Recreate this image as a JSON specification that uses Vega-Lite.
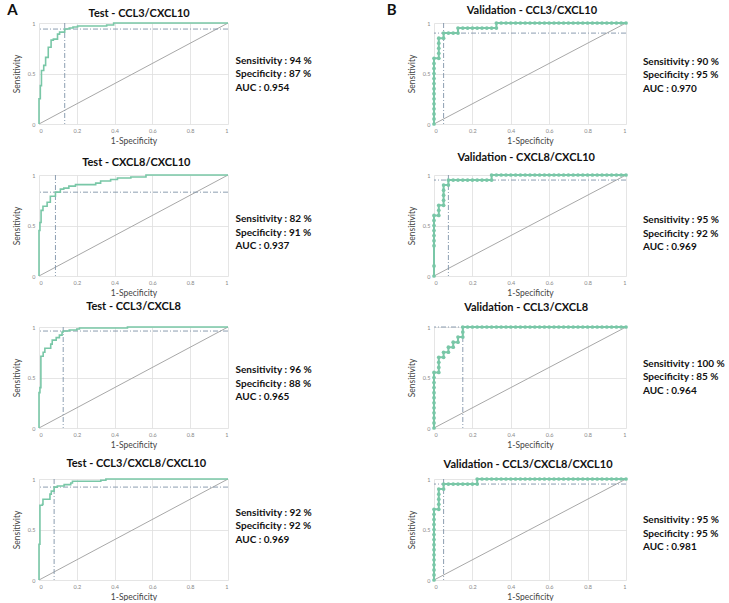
{
  "$schema": "https://vega.github.io/schema/vega-lite/v6.json",
  "background": "white",
  "padding": {"left": 7, "top": 2, "right": 0, "bottom": 0},
  "datasets": {
    "diag": [{"x": 0, "y": 0}, {"x": 1, "y": 1}]
  },
  "columns": 2,
  "align": "each",
  "bounds": "flush",
  "spacing": {"row": 51, "column": 206},
  "concat": [
    {
      "width": 189, "height": 101,
      "layer": [
        {"data": {"name": "diag"}, "mark": {"type": "line", "color": "#a8a8a8", "strokeWidth": 1},
         "encoding": {"x": {"field": "x", "type": "quantitative", "scale": {"domain": [0, 1]}, "title": "1-Specificity"}, "y": {"field": "y", "type": "quantitative", "scale": {"domain": [0, 1]}, "title": "Sensitivity"}}},
        {"data": {"values": [{"fpr": 0.136, "tpr": 0.94}]}, "mark": {"type": "rule", "color": "#7f93a8", "strokeDash": [5, 2, 1, 2], "strokeWidth": 0.9},
         "encoding": {"y": {"field": "tpr", "type": "quantitative", "scale": {"domain": [0, 1]}, "title": "Sensitivity"}}},
        {"data": {"values": [{"fpr": 0.136, "tpr": 0.94}]}, "mark": {"type": "rule", "color": "#7f93a8", "strokeDash": [5, 2, 1, 2], "strokeWidth": 0.9},
         "encoding": {"x": {"field": "fpr", "type": "quantitative", "scale": {"domain": [0, 1]}, "title": "1-Specificity"}}},
        {"data": {"values": [
          {"x": 0, "y": 0}, {"x": 0, "y": 0.25}, {"x": 0.007, "y": 0.38}, {"x": 0.013, "y": 0.53}, {"x": 0.025, "y": 0.58},
          {"x": 0.035, "y": 0.66}, {"x": 0.049, "y": 0.76}, {"x": 0.064, "y": 0.83}, {"x": 0.076, "y": 0.84}, {"x": 0.098, "y": 0.89},
          {"x": 0.109, "y": 0.91}, {"x": 0.136, "y": 0.94}, {"x": 0.16, "y": 0.95}, {"x": 0.18, "y": 0.96}, {"x": 0.204, "y": 0.97},
          {"x": 0.358, "y": 0.98}, {"x": 0.395, "y": 1}, {"x": 1, "y": 1}
        ]}, "mark": {"type": "line", "interpolate": "step-after", "color": "#79c7a7", "strokeWidth": 1.6},
         "encoding": {"x": {"field": "x", "type": "quantitative", "scale": {"domain": [0, 1]}, "title": "1-Specificity"}, "y": {"field": "y", "type": "quantitative", "scale": {"domain": [0, 1]}, "title": "Sensitivity"},
          "order": [{"field": "x", "type": "quantitative"}, {"field": "y", "type": "quantitative"}]}},
        {"data": {"values": [{"ann": "Sensitivity : 94 %\nSpecificity : 87 %\nAUC : 0.954"}]}, "mark": {"type": "text", "align": "left", "baseline": "middle", "lineBreak": "\n", "font": "Lato", "fontWeight": "bold", "fontSize": 10, "lineHeight": 13.5, "color": "#111"},
         "encoding": {"text": {"field": "ann", "type": "nominal"}, "x": {"datum": 1.04, "type": "quantitative", "scale": {"domain": [0, 1]}, "title": "1-Specificity"}, "y": {"datum": 0.624, "type": "quantitative", "scale": {"domain": [0, 1]}, "title": "Sensitivity"}}},
        {"data": {"values": [{"t": "Test - CCL3/CXCL10"}]}, "mark": {"type": "text", "align": "center", "baseline": "middle", "font": "Lato", "fontWeight": "bold", "fontSize": 11, "color": "#111"},
         "encoding": {"text": {"field": "t", "type": "nominal"}, "x": {"datum": 0.53, "type": "quantitative", "scale": {"domain": [0, 1]}, "title": "1-Specificity"}, "y": {"datum": 1.09, "type": "quantitative", "scale": {"domain": [0, 1]}, "title": "Sensitivity"}}},
        {"data": {"values": [{"lab": "A"}]}, "mark": {"type": "text", "align": "center", "baseline": "middle", "font": "Lato", "fontWeight": "bold", "fontSize": 15, "color": "#111"},
         "encoding": {"text": {"field": "lab", "type": "nominal"}, "x": {"datum": -0.14, "type": "quantitative", "scale": {"domain": [0, 1]}, "title": "1-Specificity"}, "y": {"datum": 1.13, "type": "quantitative", "scale": {"domain": [0, 1]}, "title": "Sensitivity"}}}
      ]
    },
    {
      "width": 192, "height": 101,
      "layer": [
        {"data": {"name": "diag"}, "mark": {"type": "line", "color": "#a8a8a8", "strokeWidth": 1},
         "encoding": {"x": {"field": "x", "type": "quantitative", "scale": {"domain": [0, 1]}, "title": "1-Specificity"}, "y": {"field": "y", "type": "quantitative", "scale": {"domain": [0, 1]}, "title": "Sensitivity"}}},
        {"data": {"values": [{"fpr": 0.05, "tpr": 0.9}]}, "mark": {"type": "rule", "color": "#7f93a8", "strokeDash": [5, 2, 1, 2], "strokeWidth": 0.9},
         "encoding": {"y": {"field": "tpr", "type": "quantitative", "scale": {"domain": [0, 1]}, "title": "Sensitivity"}}},
        {"data": {"values": [{"fpr": 0.05, "tpr": 0.9}]}, "mark": {"type": "rule", "color": "#7f93a8", "strokeDash": [5, 2, 1, 2], "strokeWidth": 0.9},
         "encoding": {"x": {"field": "fpr", "type": "quantitative", "scale": {"domain": [0, 1]}, "title": "1-Specificity"}}},
        {"data": {"values": [
          {"x": 0, "y": 0}, {"x": 0, "y": 0.05}, {"x": 0, "y": 0.1}, {"x": 0, "y": 0.15}, {"x": 0, "y": 0.2}, {"x": 0, "y": 0.25}, {"x": 0, "y": 0.3},
          {"x": 0, "y": 0.35}, {"x": 0, "y": 0.4}, {"x": 0, "y": 0.45}, {"x": 0, "y": 0.5}, {"x": 0, "y": 0.55}, {"x": 0, "y": 0.6}, {"x": 0, "y": 0.65},
          {"x": 0.025, "y": 0.65}, {"x": 0.025, "y": 0.7}, {"x": 0.025, "y": 0.75}, {"x": 0.025, "y": 0.8}, {"x": 0.025, "y": 0.85},
          {"x": 0.05, "y": 0.85}, {"x": 0.05, "y": 0.9}, {"x": 0.075, "y": 0.9}, {"x": 0.1, "y": 0.9}, {"x": 0.125, "y": 0.9},
          {"x": 0.125, "y": 0.95}, {"x": 0.15, "y": 0.95}, {"x": 0.175, "y": 0.95}, {"x": 0.2, "y": 0.95}, {"x": 0.225, "y": 0.95}, {"x": 0.25, "y": 0.95},
          {"x": 0.275, "y": 0.95}, {"x": 0.3, "y": 0.95}, {"x": 0.325, "y": 0.95}, {"x": 0.325, "y": 1},
          {"x": 0.35, "y": 1}, {"x": 0.375, "y": 1}, {"x": 0.4, "y": 1}, {"x": 0.425, "y": 1}, {"x": 0.45, "y": 1}, {"x": 0.475, "y": 1},
          {"x": 0.5, "y": 1}, {"x": 0.525, "y": 1}, {"x": 0.55, "y": 1}, {"x": 0.575, "y": 1}, {"x": 0.6, "y": 1}, {"x": 0.625, "y": 1},
          {"x": 0.65, "y": 1}, {"x": 0.675, "y": 1}, {"x": 0.7, "y": 1}, {"x": 0.725, "y": 1}, {"x": 0.75, "y": 1}, {"x": 0.775, "y": 1},
          {"x": 0.8, "y": 1}, {"x": 0.825, "y": 1}, {"x": 0.85, "y": 1}, {"x": 0.875, "y": 1}, {"x": 0.9, "y": 1}, {"x": 0.925, "y": 1},
          {"x": 0.95, "y": 1}, {"x": 0.975, "y": 1}, {"x": 1, "y": 1}
        ]}, "mark": {"type": "line", "color": "#79c7a7", "strokeWidth": 2, "point": {"filled": true, "size": 14, "color": "#79c7a7"}},
         "encoding": {"x": {"field": "x", "type": "quantitative", "scale": {"domain": [0, 1]}, "title": "1-Specificity"}, "y": {"field": "y", "type": "quantitative", "scale": {"domain": [0, 1]}, "title": "Sensitivity"},
          "order": [{"field": "x", "type": "quantitative"}, {"field": "y", "type": "quantitative"}]}},
        {"data": {"values": [{"ann": "Sensitivity : 90 %\nSpecificity : 95 %\nAUC : 0.970"}]}, "mark": {"type": "text", "align": "left", "baseline": "middle", "lineBreak": "\n", "font": "Lato", "fontWeight": "bold", "fontSize": 10, "lineHeight": 13.5, "color": "#111"},
         "encoding": {"text": {"field": "ann", "type": "nominal"}, "x": {"datum": 1.088, "type": "quantitative", "scale": {"domain": [0, 1]}, "title": "1-Specificity"}, "y": {"datum": 0.614, "type": "quantitative", "scale": {"domain": [0, 1]}, "title": "Sensitivity"}}},
        {"data": {"values": [{"t": "Validation - CCL3/CXCL10"}]}, "mark": {"type": "text", "align": "center", "baseline": "middle", "font": "Lato", "fontWeight": "bold", "fontSize": 11, "color": "#111"},
         "encoding": {"text": {"field": "t", "type": "nominal"}, "x": {"datum": 0.51, "type": "quantitative", "scale": {"domain": [0, 1]}, "title": "1-Specificity"}, "y": {"datum": 1.12, "type": "quantitative", "scale": {"domain": [0, 1]}, "title": "Sensitivity"}}},
        {"data": {"values": [{"lab": "B"}]}, "mark": {"type": "text", "align": "center", "baseline": "middle", "font": "Lato", "fontWeight": "bold", "fontSize": 15, "color": "#111"},
         "encoding": {"text": {"field": "lab", "type": "nominal"}, "x": {"datum": -0.22, "type": "quantitative", "scale": {"domain": [0, 1]}, "title": "1-Specificity"}, "y": {"datum": 1.13, "type": "quantitative", "scale": {"domain": [0, 1]}, "title": "Sensitivity"}}}
      ]
    },
    {
      "width": 189, "height": 101,
      "layer": [
        {"data": {"name": "diag"}, "mark": {"type": "line", "color": "#a8a8a8", "strokeWidth": 1},
         "encoding": {"x": {"field": "x", "type": "quantitative", "scale": {"domain": [0, 1]}, "title": "1-Specificity"}, "y": {"field": "y", "type": "quantitative", "scale": {"domain": [0, 1]}, "title": "Sensitivity"}}},
        {"data": {"values": [{"fpr": 0.087, "tpr": 0.83}]}, "mark": {"type": "rule", "color": "#7f93a8", "strokeDash": [5, 2, 1, 2], "strokeWidth": 0.9},
         "encoding": {"y": {"field": "tpr", "type": "quantitative", "scale": {"domain": [0, 1]}, "title": "Sensitivity"}}},
        {"data": {"values": [{"fpr": 0.087, "tpr": 0.83}]}, "mark": {"type": "rule", "color": "#7f93a8", "strokeDash": [5, 2, 1, 2], "strokeWidth": 0.9},
         "encoding": {"x": {"field": "fpr", "type": "quantitative", "scale": {"domain": [0, 1]}, "title": "1-Specificity"}}},
        {"data": {"values": [
          {"x": 0, "y": 0}, {"x": 0, "y": 0.45}, {"x": 0.005, "y": 0.53}, {"x": 0.011, "y": 0.65}, {"x": 0.021, "y": 0.69},
          {"x": 0.043, "y": 0.73}, {"x": 0.06, "y": 0.79}, {"x": 0.087, "y": 0.83}, {"x": 0.113, "y": 0.86}, {"x": 0.131, "y": 0.87},
          {"x": 0.158, "y": 0.89}, {"x": 0.193, "y": 0.905}, {"x": 0.3, "y": 0.92}, {"x": 0.326, "y": 0.94}, {"x": 0.379, "y": 0.955},
          {"x": 0.415, "y": 0.97}, {"x": 0.486, "y": 0.98}, {"x": 0.566, "y": 1}, {"x": 1, "y": 1}
        ]}, "mark": {"type": "line", "interpolate": "step-after", "color": "#79c7a7", "strokeWidth": 1.6},
         "encoding": {"x": {"field": "x", "type": "quantitative", "scale": {"domain": [0, 1]}, "title": "1-Specificity"}, "y": {"field": "y", "type": "quantitative", "scale": {"domain": [0, 1]}, "title": "Sensitivity"},
          "order": [{"field": "x", "type": "quantitative"}, {"field": "y", "type": "quantitative"}]}},
        {"data": {"values": [{"ann": "Sensitivity : 82 %\nSpecificity : 91 %\nAUC : 0.937"}]}, "mark": {"type": "text", "align": "left", "baseline": "middle", "lineBreak": "\n", "font": "Lato", "fontWeight": "bold", "fontSize": 10, "lineHeight": 13.5, "color": "#111"},
         "encoding": {"text": {"field": "ann", "type": "nominal"}, "x": {"datum": 1.04, "type": "quantitative", "scale": {"domain": [0, 1]}, "title": "1-Specificity"}, "y": {"datum": 0.564, "type": "quantitative", "scale": {"domain": [0, 1]}, "title": "Sensitivity"}}},
        {"data": {"values": [{"t": "Test - CXCL8/CXCL10"}]}, "mark": {"type": "text", "align": "center", "baseline": "middle", "font": "Lato", "fontWeight": "bold", "fontSize": 11, "color": "#111"},
         "encoding": {"text": {"field": "t", "type": "nominal"}, "x": {"datum": 0.515, "type": "quantitative", "scale": {"domain": [0, 1]}, "title": "1-Specificity"}, "y": {"datum": 1.12, "type": "quantitative", "scale": {"domain": [0, 1]}, "title": "Sensitivity"}}}
      ]
    },
    {
      "width": 192, "height": 101,
      "layer": [
        {"data": {"name": "diag"}, "mark": {"type": "line", "color": "#a8a8a8", "strokeWidth": 1},
         "encoding": {"x": {"field": "x", "type": "quantitative", "scale": {"domain": [0, 1]}, "title": "1-Specificity"}, "y": {"field": "y", "type": "quantitative", "scale": {"domain": [0, 1]}, "title": "Sensitivity"}}},
        {"data": {"values": [{"fpr": 0.075, "tpr": 0.95}]}, "mark": {"type": "rule", "color": "#7f93a8", "strokeDash": [5, 2, 1, 2], "strokeWidth": 0.9},
         "encoding": {"y": {"field": "tpr", "type": "quantitative", "scale": {"domain": [0, 1]}, "title": "Sensitivity"}}},
        {"data": {"values": [{"fpr": 0.075, "tpr": 0.95}]}, "mark": {"type": "rule", "color": "#7f93a8", "strokeDash": [5, 2, 1, 2], "strokeWidth": 0.9},
         "encoding": {"x": {"field": "fpr", "type": "quantitative", "scale": {"domain": [0, 1]}, "title": "1-Specificity"}}},
        {"data": {"values": [
          {"x": 0, "y": 0}, {"x": 0, "y": 0.1}, {"x": 0, "y": 0.3}, {"x": 0, "y": 0.35}, {"x": 0, "y": 0.4}, {"x": 0, "y": 0.45}, {"x": 0, "y": 0.5},
          {"x": 0, "y": 0.55}, {"x": 0, "y": 0.6}, {"x": 0.025, "y": 0.6}, {"x": 0.025, "y": 0.65}, {"x": 0.025, "y": 0.7},
          {"x": 0.05, "y": 0.7}, {"x": 0.05, "y": 0.75}, {"x": 0.05, "y": 0.8}, {"x": 0.05, "y": 0.85}, {"x": 0.05, "y": 0.9},
          {"x": 0.075, "y": 0.9}, {"x": 0.075, "y": 0.95}, {"x": 0.1, "y": 0.95}, {"x": 0.125, "y": 0.95}, {"x": 0.15, "y": 0.95},
          {"x": 0.175, "y": 0.95}, {"x": 0.2, "y": 0.95}, {"x": 0.225, "y": 0.95}, {"x": 0.25, "y": 0.95}, {"x": 0.275, "y": 0.95},
          {"x": 0.3, "y": 0.95}, {"x": 0.3, "y": 1}, {"x": 0.325, "y": 1},
          {"x": 0.35, "y": 1}, {"x": 0.375, "y": 1}, {"x": 0.4, "y": 1}, {"x": 0.425, "y": 1}, {"x": 0.45, "y": 1}, {"x": 0.475, "y": 1},
          {"x": 0.5, "y": 1}, {"x": 0.525, "y": 1}, {"x": 0.55, "y": 1}, {"x": 0.575, "y": 1}, {"x": 0.6, "y": 1}, {"x": 0.625, "y": 1},
          {"x": 0.65, "y": 1}, {"x": 0.675, "y": 1}, {"x": 0.7, "y": 1}, {"x": 0.725, "y": 1}, {"x": 0.75, "y": 1}, {"x": 0.775, "y": 1},
          {"x": 0.8, "y": 1}, {"x": 0.825, "y": 1}, {"x": 0.85, "y": 1}, {"x": 0.875, "y": 1}, {"x": 0.9, "y": 1}, {"x": 0.925, "y": 1},
          {"x": 0.95, "y": 1}, {"x": 0.975, "y": 1}, {"x": 1, "y": 1}
        ]}, "mark": {"type": "line", "color": "#79c7a7", "strokeWidth": 2, "point": {"filled": true, "size": 14, "color": "#79c7a7"}},
         "encoding": {"x": {"field": "x", "type": "quantitative", "scale": {"domain": [0, 1]}, "title": "1-Specificity"}, "y": {"field": "y", "type": "quantitative", "scale": {"domain": [0, 1]}, "title": "Sensitivity"},
          "order": [{"field": "x", "type": "quantitative"}, {"field": "y", "type": "quantitative"}]}},
        {"data": {"values": [{"ann": "Sensitivity : 95 %\nSpecificity : 92 %\nAUC : 0.969"}]}, "mark": {"type": "text", "align": "left", "baseline": "middle", "lineBreak": "\n", "font": "Lato", "fontWeight": "bold", "fontSize": 10, "lineHeight": 13.5, "color": "#111"},
         "encoding": {"text": {"field": "ann", "type": "nominal"}, "x": {"datum": 1.088, "type": "quantitative", "scale": {"domain": [0, 1]}, "title": "1-Specificity"}, "y": {"datum": 0.554, "type": "quantitative", "scale": {"domain": [0, 1]}, "title": "Sensitivity"}}},
        {"data": {"values": [{"t": "Validation - CXCL8/CXCL10"}]}, "mark": {"type": "text", "align": "center", "baseline": "middle", "font": "Lato", "fontWeight": "bold", "fontSize": 11, "color": "#111"},
         "encoding": {"text": {"field": "t", "type": "nominal"}, "x": {"datum": 0.48, "type": "quantitative", "scale": {"domain": [0, 1]}, "title": "1-Specificity"}, "y": {"datum": 1.17, "type": "quantitative", "scale": {"domain": [0, 1]}, "title": "Sensitivity"}}}
      ]
    },
    {
      "width": 189, "height": 101,
      "layer": [
        {"data": {"name": "diag"}, "mark": {"type": "line", "color": "#a8a8a8", "strokeWidth": 1},
         "encoding": {"x": {"field": "x", "type": "quantitative", "scale": {"domain": [0, 1]}, "title": "1-Specificity"}, "y": {"field": "y", "type": "quantitative", "scale": {"domain": [0, 1]}, "title": "Sensitivity"}}},
        {"data": {"values": [{"fpr": 0.128, "tpr": 0.96}]}, "mark": {"type": "rule", "color": "#7f93a8", "strokeDash": [5, 2, 1, 2], "strokeWidth": 0.9},
         "encoding": {"y": {"field": "tpr", "type": "quantitative", "scale": {"domain": [0, 1]}, "title": "Sensitivity"}}},
        {"data": {"values": [{"fpr": 0.128, "tpr": 0.96}]}, "mark": {"type": "rule", "color": "#7f93a8", "strokeDash": [5, 2, 1, 2], "strokeWidth": 0.9},
         "encoding": {"x": {"field": "fpr", "type": "quantitative", "scale": {"domain": [0, 1]}, "title": "1-Specificity"}}},
        {"data": {"values": [
          {"x": 0, "y": 0}, {"x": 0, "y": 0.35}, {"x": 0.005, "y": 0.4}, {"x": 0.01, "y": 0.71}, {"x": 0.022, "y": 0.75},
          {"x": 0.031, "y": 0.79}, {"x": 0.062, "y": 0.83}, {"x": 0.07, "y": 0.87}, {"x": 0.091, "y": 0.895}, {"x": 0.108, "y": 0.92},
          {"x": 0.122, "y": 0.95}, {"x": 0.128, "y": 0.96}, {"x": 0.16, "y": 0.97}, {"x": 0.2, "y": 0.98}, {"x": 0.214, "y": 0.99},
          {"x": 0.468, "y": 1}, {"x": 1, "y": 1}
        ]}, "mark": {"type": "line", "interpolate": "step-after", "color": "#79c7a7", "strokeWidth": 1.6},
         "encoding": {"x": {"field": "x", "type": "quantitative", "scale": {"domain": [0, 1]}, "title": "1-Specificity"}, "y": {"field": "y", "type": "quantitative", "scale": {"domain": [0, 1]}, "title": "Sensitivity"},
          "order": [{"field": "x", "type": "quantitative"}, {"field": "y", "type": "quantitative"}]}},
        {"data": {"values": [{"ann": "Sensitivity : 96 %\nSpecificity : 88 %\nAUC : 0.965"}]}, "mark": {"type": "text", "align": "left", "baseline": "middle", "lineBreak": "\n", "font": "Lato", "fontWeight": "bold", "fontSize": 10, "lineHeight": 13.5, "color": "#111"},
         "encoding": {"text": {"field": "ann", "type": "nominal"}, "x": {"datum": 1.04, "type": "quantitative", "scale": {"domain": [0, 1]}, "title": "1-Specificity"}, "y": {"datum": 0.574, "type": "quantitative", "scale": {"domain": [0, 1]}, "title": "Sensitivity"}}},
        {"data": {"values": [{"t": "Test - CCL3/CXCL8"}]}, "mark": {"type": "text", "align": "center", "baseline": "middle", "font": "Lato", "fontWeight": "bold", "fontSize": 11, "color": "#111"},
         "encoding": {"text": {"field": "t", "type": "nominal"}, "x": {"datum": 0.5, "type": "quantitative", "scale": {"domain": [0, 1]}, "title": "1-Specificity"}, "y": {"datum": 1.2, "type": "quantitative", "scale": {"domain": [0, 1]}, "title": "Sensitivity"}}}
      ]
    },
    {
      "width": 192, "height": 101,
      "layer": [
        {"data": {"name": "diag"}, "mark": {"type": "line", "color": "#a8a8a8", "strokeWidth": 1},
         "encoding": {"x": {"field": "x", "type": "quantitative", "scale": {"domain": [0, 1]}, "title": "1-Specificity"}, "y": {"field": "y", "type": "quantitative", "scale": {"domain": [0, 1]}, "title": "Sensitivity"}}},
        {"data": {"values": [{"fpr": 0.15, "tpr": 1}]}, "mark": {"type": "rule", "color": "#7f93a8", "strokeDash": [5, 2, 1, 2], "strokeWidth": 0.9},
         "encoding": {"y": {"field": "tpr", "type": "quantitative", "scale": {"domain": [0, 1]}, "title": "Sensitivity"}}},
        {"data": {"values": [{"fpr": 0.15, "tpr": 1}]}, "mark": {"type": "rule", "color": "#7f93a8", "strokeDash": [5, 2, 1, 2], "strokeWidth": 0.9},
         "encoding": {"x": {"field": "fpr", "type": "quantitative", "scale": {"domain": [0, 1]}, "title": "1-Specificity"}}},
        {"data": {"values": [
          {"x": 0, "y": 0}, {"x": 0, "y": 0.05}, {"x": 0, "y": 0.1}, {"x": 0, "y": 0.15}, {"x": 0, "y": 0.2}, {"x": 0, "y": 0.25}, {"x": 0, "y": 0.3},
          {"x": 0, "y": 0.35}, {"x": 0, "y": 0.4}, {"x": 0, "y": 0.45}, {"x": 0, "y": 0.5}, {"x": 0, "y": 0.55},
          {"x": 0.025, "y": 0.55}, {"x": 0.025, "y": 0.6}, {"x": 0.025, "y": 0.65}, {"x": 0.025, "y": 0.7},
          {"x": 0.05, "y": 0.7}, {"x": 0.05, "y": 0.75}, {"x": 0.075, "y": 0.75}, {"x": 0.075, "y": 0.8},
          {"x": 0.1, "y": 0.8}, {"x": 0.1, "y": 0.85}, {"x": 0.125, "y": 0.85}, {"x": 0.125, "y": 0.9},
          {"x": 0.15, "y": 0.9}, {"x": 0.15, "y": 0.95}, {"x": 0.15, "y": 1}, {"x": 0.175, "y": 1}, {"x": 0.2, "y": 1}, {"x": 0.225, "y": 1},
          {"x": 0.25, "y": 1}, {"x": 0.275, "y": 1}, {"x": 0.3, "y": 1}, {"x": 0.325, "y": 1},
          {"x": 0.35, "y": 1}, {"x": 0.375, "y": 1}, {"x": 0.4, "y": 1}, {"x": 0.425, "y": 1}, {"x": 0.45, "y": 1}, {"x": 0.475, "y": 1},
          {"x": 0.5, "y": 1}, {"x": 0.525, "y": 1}, {"x": 0.55, "y": 1}, {"x": 0.575, "y": 1}, {"x": 0.6, "y": 1}, {"x": 0.625, "y": 1},
          {"x": 0.65, "y": 1}, {"x": 0.675, "y": 1}, {"x": 0.7, "y": 1}, {"x": 0.725, "y": 1}, {"x": 0.75, "y": 1}, {"x": 0.775, "y": 1},
          {"x": 0.8, "y": 1}, {"x": 0.825, "y": 1}, {"x": 0.85, "y": 1}, {"x": 0.875, "y": 1}, {"x": 0.9, "y": 1}, {"x": 0.925, "y": 1},
          {"x": 0.95, "y": 1}, {"x": 0.975, "y": 1}, {"x": 1, "y": 1}
        ]}, "mark": {"type": "line", "color": "#79c7a7", "strokeWidth": 2, "point": {"filled": true, "size": 14, "color": "#79c7a7"}},
         "encoding": {"x": {"field": "x", "type": "quantitative", "scale": {"domain": [0, 1]}, "title": "1-Specificity"}, "y": {"field": "y", "type": "quantitative", "scale": {"domain": [0, 1]}, "title": "Sensitivity"},
          "order": [{"field": "x", "type": "quantitative"}, {"field": "y", "type": "quantitative"}]}},
        {"data": {"values": [{"ann": "Sensitivity : 100 %\nSpecificity : 85 %\nAUC : 0.964"}]}, "mark": {"type": "text", "align": "left", "baseline": "middle", "lineBreak": "\n", "font": "Lato", "fontWeight": "bold", "fontSize": 10, "lineHeight": 13.5, "color": "#111"},
         "encoding": {"text": {"field": "ann", "type": "nominal"}, "x": {"datum": 1.088, "type": "quantitative", "scale": {"domain": [0, 1]}, "title": "1-Specificity"}, "y": {"datum": 0.634, "type": "quantitative", "scale": {"domain": [0, 1]}, "title": "Sensitivity"}}},
        {"data": {"values": [{"t": "Validation - CCL3/CXCL8"}]}, "mark": {"type": "text", "align": "center", "baseline": "middle", "font": "Lato", "fontWeight": "bold", "fontSize": 11, "color": "#111"},
         "encoding": {"text": {"field": "t", "type": "nominal"}, "x": {"datum": 0.48, "type": "quantitative", "scale": {"domain": [0, 1]}, "title": "1-Specificity"}, "y": {"datum": 1.19, "type": "quantitative", "scale": {"domain": [0, 1]}, "title": "Sensitivity"}}}
      ]
    },
    {
      "width": 189, "height": 101,
      "layer": [
        {"data": {"name": "diag"}, "mark": {"type": "line", "color": "#a8a8a8", "strokeWidth": 1},
         "encoding": {"x": {"field": "x", "type": "quantitative", "scale": {"domain": [0, 1]}, "title": "1-Specificity"}, "y": {"field": "y", "type": "quantitative", "scale": {"domain": [0, 1]}, "title": "Sensitivity"}}},
        {"data": {"values": [{"fpr": 0.08, "tpr": 0.92}]}, "mark": {"type": "rule", "color": "#7f93a8", "strokeDash": [5, 2, 1, 2], "strokeWidth": 0.9},
         "encoding": {"y": {"field": "tpr", "type": "quantitative", "scale": {"domain": [0, 1]}, "title": "Sensitivity"}}},
        {"data": {"values": [{"fpr": 0.08, "tpr": 0.92}]}, "mark": {"type": "rule", "color": "#7f93a8", "strokeDash": [5, 2, 1, 2], "strokeWidth": 0.9},
         "encoding": {"x": {"field": "fpr", "type": "quantitative", "scale": {"domain": [0, 1]}, "title": "1-Specificity"}}},
        {"data": {"values": [
          {"x": 0, "y": 0}, {"x": 0, "y": 0.354}, {"x": 0.005, "y": 0.74}, {"x": 0.018, "y": 0.75}, {"x": 0.021, "y": 0.8},
          {"x": 0.058, "y": 0.85}, {"x": 0.065, "y": 0.88}, {"x": 0.08, "y": 0.92}, {"x": 0.097, "y": 0.93}, {"x": 0.133, "y": 0.944},
          {"x": 0.168, "y": 0.96}, {"x": 0.177, "y": 0.977}, {"x": 0.327, "y": 0.987}, {"x": 0.354, "y": 1}, {"x": 1, "y": 1}
        ]}, "mark": {"type": "line", "interpolate": "step-after", "color": "#79c7a7", "strokeWidth": 1.6},
         "encoding": {"x": {"field": "x", "type": "quantitative", "scale": {"domain": [0, 1]}, "title": "1-Specificity"}, "y": {"field": "y", "type": "quantitative", "scale": {"domain": [0, 1]}, "title": "Sensitivity"},
          "order": [{"field": "x", "type": "quantitative"}, {"field": "y", "type": "quantitative"}]}},
        {"data": {"values": [{"ann": "Sensitivity : 92 %\nSpecificity : 92 %\nAUC : 0.969"}]}, "mark": {"type": "text", "align": "left", "baseline": "middle", "lineBreak": "\n", "font": "Lato", "fontWeight": "bold", "fontSize": 10, "lineHeight": 13.5, "color": "#111"},
         "encoding": {"text": {"field": "ann", "type": "nominal"}, "x": {"datum": 1.04, "type": "quantitative", "scale": {"domain": [0, 1]}, "title": "1-Specificity"}, "y": {"datum": 0.664, "type": "quantitative", "scale": {"domain": [0, 1]}, "title": "Sensitivity"}}},
        {"data": {"values": [{"t": "Test - CCL3/CXCL8/CXCL10"}]}, "mark": {"type": "text", "align": "center", "baseline": "middle", "font": "Lato", "fontWeight": "bold", "fontSize": 11, "color": "#111"},
         "encoding": {"text": {"field": "t", "type": "nominal"}, "x": {"datum": 0.515, "type": "quantitative", "scale": {"domain": [0, 1]}, "title": "1-Specificity"}, "y": {"datum": 1.15, "type": "quantitative", "scale": {"domain": [0, 1]}, "title": "Sensitivity"}}}
      ]
    },
    {
      "width": 192, "height": 101,
      "layer": [
        {"data": {"name": "diag"}, "mark": {"type": "line", "color": "#a8a8a8", "strokeWidth": 1},
         "encoding": {"x": {"field": "x", "type": "quantitative", "scale": {"domain": [0, 1]}, "title": "1-Specificity"}, "y": {"field": "y", "type": "quantitative", "scale": {"domain": [0, 1]}, "title": "Sensitivity"}}},
        {"data": {"values": [{"fpr": 0.05, "tpr": 0.95}]}, "mark": {"type": "rule", "color": "#7f93a8", "strokeDash": [5, 2, 1, 2], "strokeWidth": 0.9},
         "encoding": {"y": {"field": "tpr", "type": "quantitative", "scale": {"domain": [0, 1]}, "title": "Sensitivity"}}},
        {"data": {"values": [{"fpr": 0.05, "tpr": 0.95}]}, "mark": {"type": "rule", "color": "#7f93a8", "strokeDash": [5, 2, 1, 2], "strokeWidth": 0.9},
         "encoding": {"x": {"field": "fpr", "type": "quantitative", "scale": {"domain": [0, 1]}, "title": "1-Specificity"}}},
        {"data": {"values": [
          {"x": 0, "y": 0}, {"x": 0, "y": 0.05}, {"x": 0, "y": 0.1}, {"x": 0, "y": 0.15}, {"x": 0, "y": 0.2}, {"x": 0, "y": 0.25}, {"x": 0, "y": 0.3},
          {"x": 0, "y": 0.35}, {"x": 0, "y": 0.4}, {"x": 0, "y": 0.45}, {"x": 0, "y": 0.5}, {"x": 0, "y": 0.55}, {"x": 0, "y": 0.6}, {"x": 0, "y": 0.65}, {"x": 0, "y": 0.7},
          {"x": 0.025, "y": 0.7}, {"x": 0.025, "y": 0.75}, {"x": 0.025, "y": 0.8}, {"x": 0.025, "y": 0.85}, {"x": 0.025, "y": 0.9},
          {"x": 0.05, "y": 0.9}, {"x": 0.05, "y": 0.95}, {"x": 0.075, "y": 0.95}, {"x": 0.1, "y": 0.95}, {"x": 0.125, "y": 0.95},
          {"x": 0.15, "y": 0.95}, {"x": 0.175, "y": 0.95}, {"x": 0.2, "y": 0.95}, {"x": 0.225, "y": 0.95}, {"x": 0.225, "y": 1},
          {"x": 0.25, "y": 1}, {"x": 0.275, "y": 1}, {"x": 0.3, "y": 1}, {"x": 0.325, "y": 1},
          {"x": 0.35, "y": 1}, {"x": 0.375, "y": 1}, {"x": 0.4, "y": 1}, {"x": 0.425, "y": 1}, {"x": 0.45, "y": 1}, {"x": 0.475, "y": 1},
          {"x": 0.5, "y": 1}, {"x": 0.525, "y": 1}, {"x": 0.55, "y": 1}, {"x": 0.575, "y": 1}, {"x": 0.6, "y": 1}, {"x": 0.625, "y": 1},
          {"x": 0.65, "y": 1}, {"x": 0.675, "y": 1}, {"x": 0.7, "y": 1}, {"x": 0.725, "y": 1}, {"x": 0.75, "y": 1}, {"x": 0.775, "y": 1},
          {"x": 0.8, "y": 1}, {"x": 0.825, "y": 1}, {"x": 0.85, "y": 1}, {"x": 0.875, "y": 1}, {"x": 0.9, "y": 1}, {"x": 0.925, "y": 1},
          {"x": 0.95, "y": 1}, {"x": 0.975, "y": 1}, {"x": 1, "y": 1}
        ]}, "mark": {"type": "line", "color": "#79c7a7", "strokeWidth": 2, "point": {"filled": true, "size": 14, "color": "#79c7a7"}},
         "encoding": {"x": {"field": "x", "type": "quantitative", "scale": {"domain": [0, 1]}, "title": "1-Specificity"}, "y": {"field": "y", "type": "quantitative", "scale": {"domain": [0, 1]}, "title": "Sensitivity"},
          "order": [{"field": "x", "type": "quantitative"}, {"field": "y", "type": "quantitative"}]}},
        {"data": {"values": [{"ann": "Sensitivity : 95 %\nSpecificity : 95 %\nAUC : 0.981"}]}, "mark": {"type": "text", "align": "left", "baseline": "middle", "lineBreak": "\n", "font": "Lato", "fontWeight": "bold", "fontSize": 10, "lineHeight": 13.5, "color": "#111"},
         "encoding": {"text": {"field": "ann", "type": "nominal"}, "x": {"datum": 1.088, "type": "quantitative", "scale": {"domain": [0, 1]}, "title": "1-Specificity"}, "y": {"datum": 0.594, "type": "quantitative", "scale": {"domain": [0, 1]}, "title": "Sensitivity"}}},
        {"data": {"values": [{"t": "Validation - CCL3/CXCL8/CXCL10"}]}, "mark": {"type": "text", "align": "center", "baseline": "middle", "font": "Lato", "fontWeight": "bold", "fontSize": 11, "color": "#111"},
         "encoding": {"text": {"field": "t", "type": "nominal"}, "x": {"datum": 0.49, "type": "quantitative", "scale": {"domain": [0, 1]}, "title": "1-Specificity"}, "y": {"datum": 1.14, "type": "quantitative", "scale": {"domain": [0, 1]}, "title": "Sensitivity"}}}
      ]
    }
  ],
  "config": {
    "view": {"stroke": null},
    "font": "Lato",
    "axis": {"labelFontSize": 5.5, "labelColor": "#888", "labelFont": "Lato", "titleFont": "Lato", "titleFontSize": 8.5, "titleFontWeight": "normal", "titleColor": "#444", "domain": false, "ticks": false, "gridColor": "#dedede", "gridWidth": 0.8, "labelPadding": 4, "titlePadding": 3, "format": "~g"},
    "axisX": {"values": [0, 0.2, 0.4, 0.6, 0.8, 1]},
    "axisY": {"values": [0, 0.25, 0.5, 0.75, 1], "titlePadding": 6}
  }
}
